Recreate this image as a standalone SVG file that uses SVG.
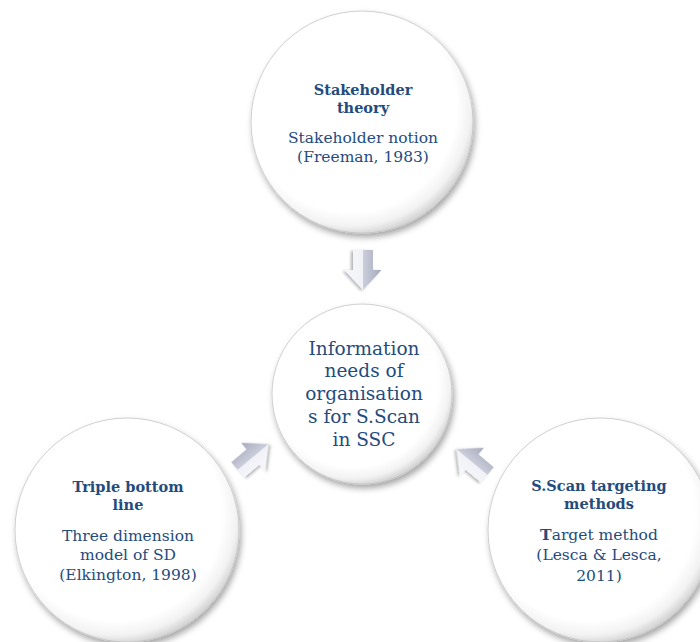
<svg xmlns="http://www.w3.org/2000/svg" width="700" height="642" viewBox="0 0 700 642">
<defs>
<style>
.circ{fill:url(#cg);stroke:#c4c4c4;stroke-width:0.8;filter:url(#sh)}
text{font-family:"DejaVu Serif","Liberation Serif",serif;fill:#244b7d;text-anchor:middle}
.b{font-weight:bold;font-size:14.5px}
.n{font-size:15.5px}
.c{font-size:18.5px}
.arr{fill:url(#ag);filter:url(#ash)}
.hl{fill:#f7f8fc;opacity:0.85}
</style>
<radialGradient id="cg" cx="0.45" cy="0.43" r="0.58">
<stop offset="0" stop-color="#ffffff"/>
<stop offset="0.82" stop-color="#ffffff"/>
<stop offset="0.93" stop-color="#f2f2f2"/>
<stop offset="1" stop-color="#d4d4d4"/>
</radialGradient>
<linearGradient id="ag" x1="0" y1="1" x2="0" y2="0">
<stop offset="0" stop-color="#f2f3f8"/>
<stop offset="1" stop-color="#a4a9bc"/>
</linearGradient>
<filter id="sh" x="-20%" y="-20%" width="140%" height="140%">
<feDropShadow dx="2" dy="4" stdDeviation="3" flood-color="#000" flood-opacity="0.35"/>
</filter>
<filter id="ash" x="-30%" y="-30%" width="160%" height="160%">
<feDropShadow dx="1" dy="2" stdDeviation="1.5" flood-color="#000" flood-opacity="0.3"/>
</filter>
<g id="arrow">
<polygon class="arr" points="-20,-10 0,-10 0,-18.5 20,0 0,18.5 0,10 -20,10"/>
<polygon class="hl" points="-20,0 -20,10 0,10 0,18.5 20,0 4,0"/>
</g>
</defs>
<rect width="700" height="642" fill="#ffffff"/>
<g id="connectors">
<use href="#arrow" transform="translate(363,270) rotate(90)"/>
<use href="#arrow" transform="translate(253,457) rotate(-40)"/>
<use href="#arrow" transform="translate(472,462) rotate(220) scale(1,-1)"/>
</g>
<g id="node-top">
<circle class="circ" cx="362" cy="122" r="111"/>
<text class="b" x="363" y="95">Stakeholder</text>
<text class="b" x="363" y="113">theory</text>
<text class="n" x="363" y="143">Stakeholder notion</text>
<text class="n" x="363" y="162">(Freeman, 1983)</text>
</g>
<g id="node-center">
<circle class="circ" cx="362" cy="394" r="90"/>
<text class="c" x="364" y="355">Information</text>
<text class="c" x="364" y="377">needs of</text>
<text class="c" x="364" y="400">organisation</text>
<text class="c" x="364" y="423">s for S.Scan</text>
<text class="c" x="364" y="446">in SSC</text>
</g>
<g id="node-left">
<circle class="circ" cx="127" cy="530" r="112"/>
<text class="b" x="128" y="492">Triple bottom</text>
<text class="b" x="128" y="510">line</text>
<text class="n" x="128" y="541">Three dimension</text>
<text class="n" x="128" y="560">model of SD</text>
<text class="n" x="128" y="580">(Elkington, 1998)</text>
</g>
<g id="node-right">
<circle class="circ" cx="600" cy="530" r="112"/>
<text class="b" x="599" y="491">S.Scan targeting</text>
<text class="b" x="599" y="509">methods</text>
<text class="n" x="599" y="540"><tspan font-weight="bold">T</tspan>arget method</text>
<text class="n" x="599" y="560">(Lesca &amp; Lesca,</text>
<text class="n" x="599" y="581">2011)</text>
</g>
</svg>
